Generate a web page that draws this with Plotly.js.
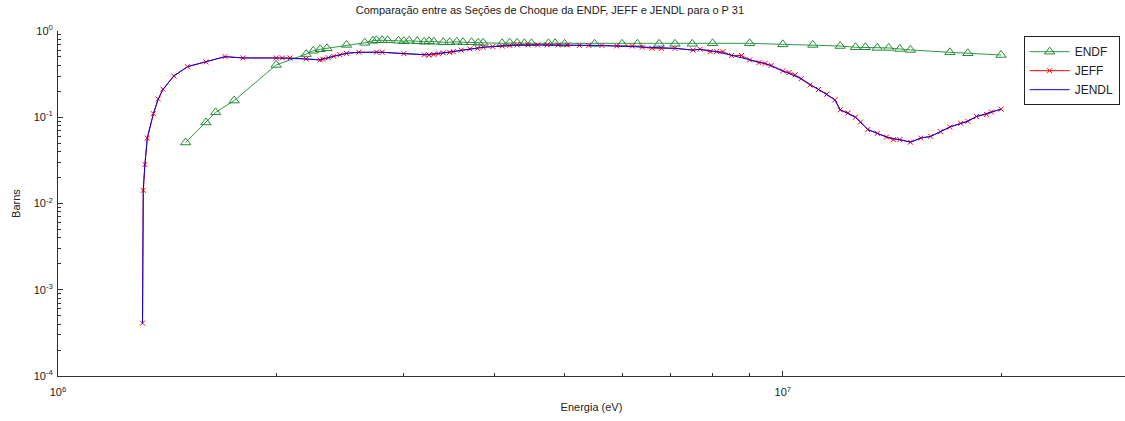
<!DOCTYPE html>
<html>
<head>
<meta charset="utf-8">
<script src="https://cdn.plot.ly/plotly-3.0.1.min.js"></script>
<style>html,body{margin:0;padding:0;background:#fff;}#chart{width:1125px;height:421px;}</style>
</head>
<body>
<div id="chart"></div>
<script>
// ENDF (green, triangles)
const endfE = [1.5e6, 1.6e6, 1.65e6, 1.75e6, 2.0e6, 2.2e6, 2.25e6, 2.3e6, 2.35e6, 2.5e6, 2.65e6, 2.72e6, 2.75e6, 2.8e6, 2.85e6, 2.95e6, 3.0e6, 3.05e6, 3.13e6, 3.2e6, 3.25e6, 3.3e6, 3.4e6, 3.47e6, 3.55e6, 3.62e6, 3.72e6, 3.8e6, 3.86e6, 4.1e6, 4.2e6, 4.3e6, 4.4e6, 4.5e6, 4.75e6, 4.85e6, 5.0e6, 5.5e6, 6.0e6, 6.3e6, 6.75e6, 7.1e6, 7.5e6, 8.0e6, 9.0e6, 1.0e7, 1.1e7, 1.2e7, 1.26e7, 1.3e7, 1.35e7, 1.4e7, 1.45e7, 1.5e7, 1.7e7, 1.8e7, 2.0e7];
const endfS = [0.051, 0.087, 0.114, 0.156, 0.404, 0.54, 0.59, 0.614, 0.63, 0.69, 0.73, 0.77, 0.78, 0.78, 0.78, 0.77, 0.76, 0.77, 0.76, 0.75, 0.76, 0.75, 0.74, 0.74, 0.75, 0.74, 0.74, 0.73, 0.73, 0.72, 0.73, 0.73, 0.72, 0.72, 0.72, 0.72, 0.71, 0.71, 0.71, 0.71, 0.71, 0.71, 0.71, 0.72, 0.72, 0.70, 0.689, 0.67, 0.648, 0.648, 0.636, 0.636, 0.619, 0.603, 0.566, 0.552, 0.527];

// JEFF (red, x markers)
const jeffE = [1.308e6, 1.311e6, 1.318e6, 1.328e6, 1.354e6, 1.375e6, 1.396e6, 1.445e6, 1.509e6, 1.6e6, 1.7e6, 1.8e6, 2.0e6, 2.04e6, 2.09e6, 2.2e6, 2.3e6, 2.32e6, 2.36e6, 2.4e6, 2.45e6, 2.5e6, 2.6e6, 2.75e6, 2.8e6, 3.0e6, 3.2e6, 3.25e6, 3.3e6, 3.35e6, 3.4e6, 3.47e6, 3.51e6, 3.6e6, 3.7e6, 3.79e6, 3.86e6, 3.98e6, 4.1e6, 4.2e6, 4.3e6, 4.45e6, 4.59e6, 4.73e6, 4.9e6, 5.04e6, 5.24e6, 5.4e6, 5.63e6, 5.9e6, 6.2e6, 6.4e6, 6.6e6, 6.8e6, 7.1e6, 7.52e6, 7.69e6, 7.94e6, 8.1e6, 8.27e6, 8.5e6, 8.77e6, 9.0e6, 9.27e6, 9.45e6, 9.64e6, 1.0e7, 1.02e7, 1.04e7, 1.06e7, 1.09e7, 1.12e7, 1.15e7, 1.18e7, 1.2e7, 1.23e7, 1.26e7, 1.28e7, 1.31e7, 1.35e7, 1.39e7, 1.42e7, 1.45e7, 1.5e7, 1.55e7, 1.6e7, 1.65e7, 1.7e7, 1.76e7, 1.8e7, 1.85e7, 1.91e7, 1.94e7, 2.0e7];
const jeffS = [0.00041, 0.0142, 0.0284, 0.0573, 0.110, 0.163, 0.211, 0.301, 0.386, 0.438, 0.504, 0.487, 0.487, 0.487, 0.487, 0.474, 0.462, 0.47, 0.49, 0.51, 0.53, 0.55, 0.567, 0.567, 0.567, 0.547, 0.532, 0.527, 0.535, 0.545, 0.557, 0.565, 0.576, 0.6, 0.62, 0.63, 0.648, 0.66, 0.67, 0.68, 0.69, 0.69, 0.69, 0.69, 0.69, 0.69, 0.68, 0.68, 0.68, 0.67, 0.67, 0.65, 0.63, 0.63, 0.63, 0.60, 0.614, 0.576, 0.576, 0.576, 0.52, 0.52, 0.462, 0.43, 0.42, 0.40, 0.344, 0.33, 0.31, 0.28, 0.237, 0.21, 0.185, 0.159, 0.122, 0.112, 0.1, 0.088, 0.072, 0.065, 0.059, 0.055, 0.055, 0.0514, 0.0574, 0.060, 0.068, 0.077, 0.085, 0.090, 0.102, 0.108, 0.115, 0.124];

// JENDL (blue line)
const jendlE = [1.308e6, 1.311e6, 1.318e6, 1.328e6, 1.354e6, 1.375e6, 1.396e6, 1.445e6, 1.509e6, 1.6e6, 1.7e6, 1.8e6, 2.0e6, 2.2e6, 2.3e6, 2.4e6, 2.5e6, 2.6e6, 2.8e6, 3.0e6, 3.2e6, 3.4e6, 3.6e6, 3.86e6, 4.1e6, 4.3e6, 4.6e6, 5.0e6, 5.4e6, 5.9e6, 6.4e6, 6.8e6, 7.1e6, 7.52e6, 7.69e6, 8.1e6, 8.5e6, 9.0e6, 9.45e6, 1.0e7, 1.06e7, 1.12e7, 1.18e7, 1.2e7, 1.26e7, 1.31e7, 1.39e7, 1.45e7, 1.5e7, 1.55e7, 1.6e7, 1.7e7, 1.8e7, 1.85e7, 1.94e7, 2.0e7];
const jendlS = [0.00041, 0.0142, 0.0284, 0.0573, 0.110, 0.163, 0.211, 0.301, 0.386, 0.438, 0.504, 0.487, 0.487, 0.474, 0.462, 0.51, 0.55, 0.567, 0.567, 0.547, 0.532, 0.557, 0.6, 0.648, 0.67, 0.69, 0.69, 0.69, 0.68, 0.67, 0.65, 0.63, 0.63, 0.60, 0.614, 0.576, 0.52, 0.462, 0.42, 0.344, 0.28, 0.21, 0.159, 0.122, 0.1, 0.072, 0.059, 0.055, 0.0514, 0.0574, 0.060, 0.077, 0.090, 0.102, 0.115, 0.124];

// Axis ticks
const xMajor = [1e6, 1e7];
const xMajorText = ['10<sup>6</sup>', '10<sup>7</sup>'];
const xMinor = [2e6, 3e6, 4e6, 5e6, 6e6, 7e6, 8e6, 9e6, 2e7];
const yMajor = [1e-4, 1e-3, 1e-2, 1e-1, 1];
const yMajorText = ['10<sup>-4</sup>', '10<sup>-3</sup>', '10<sup>-2</sup>', '10<sup>-1</sup>', '10<sup>0</sup>'];
const yMinor = [2e-4,3e-4,4e-4,5e-4,6e-4,7e-4,8e-4,9e-4,2e-3,3e-3,4e-3,5e-3,6e-3,7e-3,8e-3,9e-3,2e-2,3e-2,4e-2,5e-2,6e-2,7e-2,8e-2,9e-2,0.2,0.3,0.4,0.5,0.6,0.7,0.8,0.9];

const FONT = 'Liberation Sans, Arial, sans-serif';
const AX = '#333333';
const TXT = '#222222';

const traces = [
  {x: endfE, y: endfS, name: 'ENDF', type: 'scatter', mode: 'lines+markers',
   line: {color: '#2f9a45', width: 1},
   marker: {symbol: 'triangle-up-open', size: 9, color: '#238a35', line: {width: 1}}},
  {x: jeffE, y: jeffS, name: 'JEFF', type: 'scatter', mode: 'lines+markers',
   line: {color: '#ff0000', width: 1},
   marker: {symbol: 'x-thin-open', size: 5, color: '#ff0000', line: {width: 1, color: '#ff0000'}}},
  {x: jendlE, y: jendlS, name: 'JENDL', type: 'scatter', mode: 'lines',
   line: {color: '#0000ff', width: 1}}
];

const layout = {
  width: 1125, height: 421,
  margin: {l: 58, r: 0, t: 31, b: 45, pad: 0},
  paper_bgcolor: '#ffffff', plot_bgcolor: '#ffffff',
  font: {family: FONT, size: 11, color: TXT},
  title: {text: 'Comparação entre as Seções de Choque da ENDF, JEFF e JENDL para o P 31',
          font: {family: FONT, size: 11, color: TXT},
          x: 0.461, xref: 'paper', xanchor: 'center', y: 0.976, yref: 'container', yanchor: 'middle'},
  showlegend: true,
  legend: {x: 0.905, y: 0.985, xanchor: 'left', yanchor: 'top', bgcolor: '#ffffff',
           bordercolor: '#222', borderwidth: 1, font: {family: FONT, size: 12, color: TXT},
           tracegroupgap: 0, itemwidth: 40},
  xaxis: {type: 'log', range: [6, 7.4721], showgrid: false, zeroline: false,
          showline: true, linecolor: AX, linewidth: 1, mirror: false,
          tickmode: 'array', tickvals: xMajor, ticktext: xMajorText,
          ticks: 'inside', ticklen: 5, tickcolor: AX, ticklabelstandoff: 6,
          tickfont: {family: FONT, size: 11, color: TXT},
          minor: {tickmode: 'array', tickvals: xMinor, ticks: 'inside', ticklen: 3, tickcolor: AX},
          title: {text: 'Energia (eV)', font: {family: FONT, size: 11, color: TXT}, standoff: 6}},
  yaxis: {type: 'log', range: [-4, 0], showgrid: false, zeroline: false,
          showline: true, linecolor: AX, linewidth: 1, mirror: false,
          tickmode: 'array', tickvals: yMajor, ticktext: yMajorText,
          ticks: 'inside', ticklen: 5, tickcolor: AX, ticklabelstandoff: 2,
          tickfont: {family: FONT, size: 11, color: TXT},
          minor: {tickmode: 'array', tickvals: yMinor, ticks: 'inside', ticklen: 3, tickcolor: AX},
          title: {text: 'Barns', font: {family: FONT, size: 11, color: TXT}, standoff: 10}}
};

Plotly.newPlot('chart', traces, layout, {displayModeBar: false, staticPlot: true});
</script>
</body>
</html>
